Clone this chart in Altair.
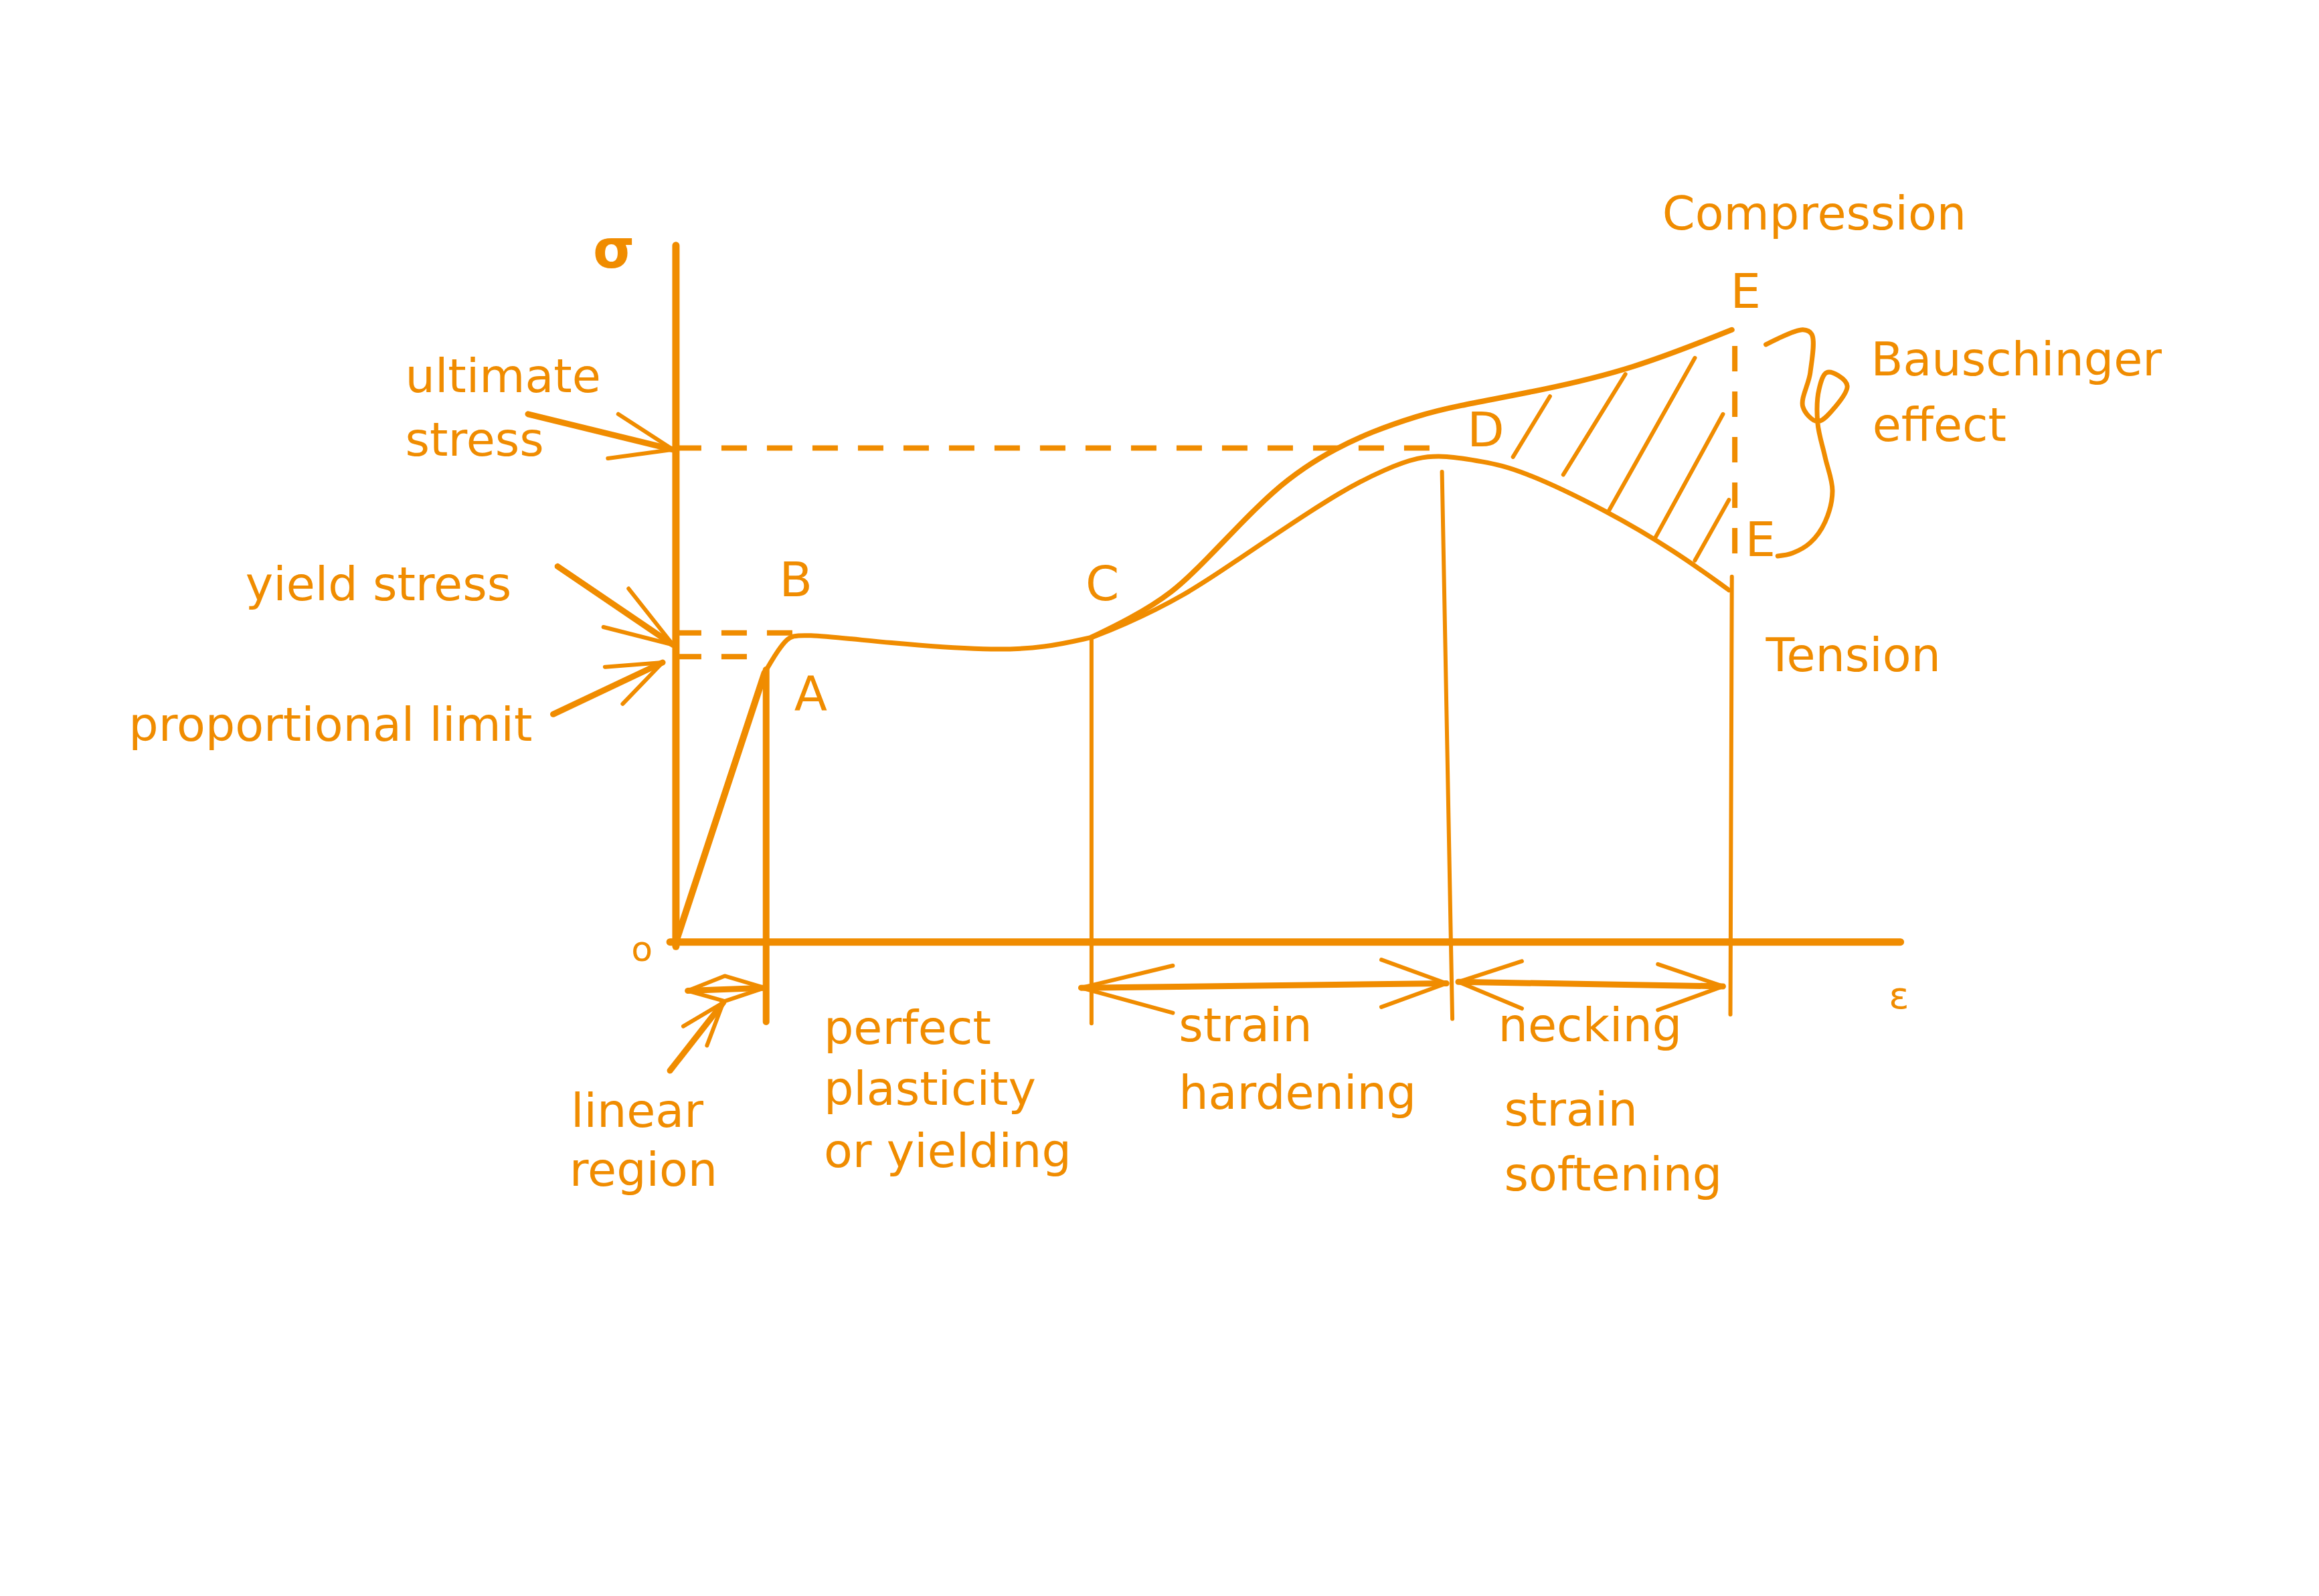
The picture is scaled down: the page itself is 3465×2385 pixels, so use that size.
import altair as alt
import pandas as pd

ORANGE = "#f08c00"

# ---------------------------------------------------------------
# Sketch geometry: strain (x) vs stress (y), arbitrary units, O = (0, 0)
# ---------------------------------------------------------------
Y_AXIS = [(0, -3), (0, 471)]
X_AXIS = [(-4, 0), (828, 0)]

LINEAR_OA = [(0, 0), (60, 182)]
A_LINE = [(61, 184), (61, -54)]

YIELD_PLATEAU = [(60, 182), (64, 189), (69, 197), (75, 205), (82, 209),
                 (145, 202), (213, 197), (250, 199), (281, 206)]
UPPER_CURVE = [(281, 206), (306, 218), (336, 236), (359, 259), (382, 283),
               (404, 305), (425, 321), (445, 333), (470, 345), (502, 356),
               (525, 362), (585, 373), (646, 387), (714, 414)]
LOWER_CURVE = [(281, 206), (300, 213), (344, 234), (382, 260), (412, 280),
               (450, 305), (480, 320), (502, 328), (520, 329), (545, 325),
               (570, 320), (629, 292), (676, 264), (712, 238)]

C_LINE = [(281, 206), (281, -55)]
D_LINE = [(518, 318), (525, -52)]
E_LINE = [(714, 247), (713, -49)]

ULTIMATE_DASH = [(0, 334), (517, 334)]
YIELD_DASH = [(0, 209), (83, 209)]
PROP_DASH = [(0, 193), (61, 193)]
E_DASH = [(716, 403), (716, 261)]

HATCH_1 = [(591, 369), (566, 328)]
HATCH_2 = [(642, 384), (600, 316)]
HATCH_3 = [(689, 395), (631, 292)]
HATCH_4 = [(708, 357), (662, 273)]
HATCH_5 = [(712, 299), (689, 258)]

ULT_SHAFT = [(-100, 357), (-2, 333)]
ULT_HEAD = [(-39, 357), (-2, 333), (-46, 327)]
YIELD_SHAFT = [(-80, 254), (-2, 201)]
YIELD_HEAD = [(-32, 239), (-2, 201), (-49, 213)]
PROP_SHAFT = [(-83, 154), (-9, 189)]
PROP_HEAD = [(-48, 186), (-9, 189), (-36, 161)]

LINEAR_SHAFT = [(8, -33), (60, -31)]
LINEAR_HEADS = [(8, -33), (33, -23), (60, -31), (33, -40), (8, -33)]
POINTER_SHAFT = [(-4, -87), (32, -41)]
POINTER_HEAD = [(5, -57), (32, -41), (21, -70)]

HARDENING_SHAFT = [(274, -31), (521, -28)]
HARDENING_HEAD_L = [(336, -16), (274, -31), (336, -48)]
HARDENING_HEAD_R = [(477, -12), (521, -28), (477, -44)]
NECKING_SHAFT = [(529, -27), (708, -30)]
NECKING_HEAD_L = [(572, -13), (529, -27), (572, -45)]
NECKING_HEAD_R = [(664, -15), (708, -30), (664, -46)]

BRACE = [(737, 404), (762, 414), (768, 411), (767, 385), (762, 362), (772, 352),
         (784, 362), (792, 376), (786, 383), (778, 385), (773, 374), (772, 351),
         (777, 328), (782, 305), (777, 284), (767, 270), (755, 263), (745, 261)]

LABELS = ["ultimate", "stress", "yield stress", "proportional limit",
          "Compression", "Bauschinger", "effect", "Tension",
          "linear", "region", "perfect", "plasticity", "or yielding",
          "strain", "hardening", "necking", "strain", "softening"]
LABEL_X = [-183, -183, -291, -370, 667, 808, 809, 737,
           -71, -72, 100, 100, 100, 340, 340, 556, 560, 560]
LABEL_Y = [372, 329, 231, 136, 482, 383, 339, 183,
           -125, -165, -69, -110, -152, -67, -113, -67, -124, -168]

POINT_NAMES = ["B", "A", "C", "D", "E", "E"]
POINT_X = [70, 80, 277, 535, 713, 723]
POINT_Y = [234, 157, 231, 335, 429, 261]

SIGMA = ["σ"]
SIGMA_X = [-42]
SIGMA_Y = [456]
ORIGIN = ["o"]
ORIGIN_X = [-23]
ORIGIN_Y = [-13]
EPS = ["ε"]
EPS_X = [827]
EPS_Y = [-45]

# ---------------------------------------------------------------
XMIN, XMAX = -453.4, 1103.3
YMIN, YMAX = -434.6, 633.4
W, H = 3440, 2360

XS = alt.X("strain:Q", scale=alt.Scale(domain=[XMIN, XMAX], nice=False, zero=False), axis=None)
YS = alt.Y("stress:Q", scale=alt.Scale(domain=[YMIN, YMAX], nice=False, zero=False), axis=None)


def polylines(named):
    rows = []
    for name, pts in named.items():
        for i, (x, y) in enumerate(pts):
            rows.append({"strain": x, "stress": y, "seg": name, "ord": i})
    return pd.DataFrame(rows)


def line_layer(named, width, dash=None, interp="linear"):
    kw = dict(color=ORANGE, strokeWidth=width, strokeCap="round",
              strokeJoin="round", interpolate=interp)
    if dash:
        kw["strokeDash"] = dash
        kw["strokeCap"] = "butt"
    return alt.Chart(polylines(named)).mark_line(**kw).encode(
        x=XS, y=YS, detail="seg:N", order="ord:Q")


def text_layer(texts, xs, ys, size, weight="normal", align="left"):
    df = pd.DataFrame({"strain": xs, "stress": ys, "label": texts})
    return alt.Chart(df).mark_text(
        font="DejaVu Sans", fontSize=size, fontWeight=weight, align=align,
        baseline="alphabetic", color=ORANGE).encode(x=XS, y=YS, text="label:N")


layers = [
    line_layer({"yaxis": Y_AXIS, "xaxis": X_AXIS}, 11),
    line_layer({"oa": LINEAR_OA, "a": A_LINE}, 10),
    line_layer({"plateau": YIELD_PLATEAU, "lower": LOWER_CURVE}, 7, interp="basis"),
    line_layer({"upper": UPPER_CURVE}, 8, interp="basis"),
    line_layer({"c": C_LINE, "d": D_LINE, "e": E_LINE,
                "h1": HATCH_1, "h2": HATCH_2, "h3": HATCH_3, "h4": HATCH_4, "h5": HATCH_5,
                "uh": ULT_HEAD, "yh": YIELD_HEAD, "ph": PROP_HEAD,
                "lh": LINEAR_HEADS, "poh": POINTER_HEAD,
                "hl": HARDENING_HEAD_L, "hr": HARDENING_HEAD_R,
                "nl": NECKING_HEAD_L, "nr": NECKING_HEAD_R}, 6),
    line_layer({"us": ULT_SHAFT, "ys": YIELD_SHAFT, "ps": PROP_SHAFT,
                "ls": LINEAR_SHAFT, "pos": POINTER_SHAFT,
                "hs": HARDENING_SHAFT, "ns": NECKING_SHAFT}, 9),
    line_layer({"ud": ULTIMATE_DASH, "yd": YIELD_DASH, "pd": PROP_DASH, "ed": E_DASH},
               8, dash=[38, 30]),
    line_layer({"brace": BRACE}, 7, interp="catmull-rom"),
    text_layer(LABELS, LABEL_X, LABEL_Y, 70),
    text_layer(POINT_NAMES, POINT_X, POINT_Y, 72),
    text_layer(SIGMA, SIGMA_X, SIGMA_Y, 80, weight="bold", align="center"),
    text_layer(ORIGIN, ORIGIN_X, ORIGIN_Y, 52, align="center"),
    text_layer(EPS, EPS_X, EPS_Y, 56, align="center"),
]

chart = alt.layer(*layers).properties(
    width=W, height=H, padding=0, background="white"
).configure_view(stroke=None)

chart.save("out.html", embed_options={"renderer": "svg", "actions": False})
